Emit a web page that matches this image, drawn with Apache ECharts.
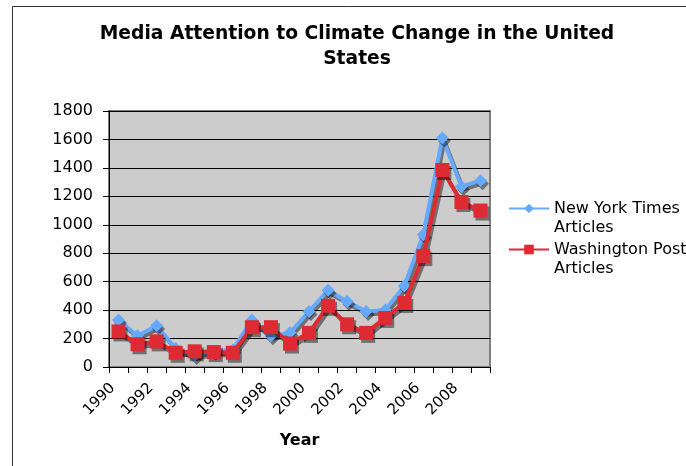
<!DOCTYPE html>
<html>
<head>
<meta charset="utf-8">
<script src="https://cdn.jsdelivr.net/npm/echarts@6/dist/echarts.min.js"></script>
<style>
  html, body { margin: 0; padding: 0; background: #fff; }
  #chart { width: 686px; height: 466px; }
</style>
</head>
<body>
<div id="chart"></div>
<script>
// years on the category axis
var years = ['1990', '1991', '1992', '1993', '1994', '1995', '1996', '1997', '1998', '1999',
  '2000', '2001', '2002', '2003', '2004', '2005', '2006', '2007', '2008', '2009']

// article counts
var nytArticles = [330, 220, 290, 130, 80, 110, 120, 330, 220, 240,
  390, 540, 460, 390, 400, 570, 930, 1610, 1270, 1310]
var wpArticles = [250, 160, 180, 100, 110, 105, 100, 280, 280, 165,
  240, 430, 300, 240, 345, 450, 780, 1385, 1160, 1100]

var yTicks = [0, 1800, 200] // min, max, step

function initMediaChart() {
  let mediaEcharts = echarts.init(document.getElementById('chart'))

  var shadow = {
    shadowColor: 'rgba(0,0,0,0.45)',
    shadowOffsetX: 2,
    shadowOffsetY: 3,
    shadowBlur: 0,
  }

  var mediaOption = {
    animation: false,
    textStyle: { fontFamily: 'DejaVu Sans' },
    // chart frame
    graphic: [
      {
        type: 'rect',
        shape: { x: 12.5, y: 6.5, width: 700, height: 500 },
        style: { fill: 'none', stroke: '#333', lineWidth: 1 },
        silent: true,
      },
    ],
    title: {
      text: 'Media Attention to Climate Change in the United\nStates',
      left: 352,
      top: 17,
      textAlign: 'center',
      textStyle: {
        fontFamily: 'DejaVu Sans',
        fontSize: 18.7,
        fontWeight: 'bold',
        color: '#000',
        lineHeight: 25,
      },
    },
    legend: {
      orient: 'vertical',
      left: 508,
      top: 180,
      padding: 0,
      itemWidth: 40,
      itemHeight: 12,
      itemGap: -16,
      // empty first line keeps the icon level with the first text line
      formatter: function (name) {
        return '\n' + name
      },
      textStyle: {
        fontFamily: 'DejaVu Sans',
        fontSize: 16,
        color: '#000',
        lineHeight: 19,
      },
      data: ['New York Times\nArticles', 'Washington Post\nArticles'],
    },
    grid: {
      left: 109,
      right: 196,
      top: 111,
      bottom: 99,
      show: true,
      backgroundColor: '#cccccc',
      borderColor: '#808080',
      borderWidth: 2,
    },
    xAxis: {
      type: 'category',
      data: years,
      boundaryGap: true,
      name: 'Year',
      nameLocation: 'middle',
      nameGap: 66,
      nameTextStyle: {
        fontFamily: 'DejaVu Sans',
        fontSize: 16,
        fontWeight: 'bold',
        color: '#000',
      },
      axisLine: { lineStyle: { color: '#000', width: 1 } },
      axisTick: { show: true, interval: 0, length: 6, lineStyle: { color: '#000' } },
      axisLabel: {
        interval: 1,
        rotate: 45,
        fontSize: 15,
        color: '#000',
        margin: 13,
        padding: [0, 8, 0, 0],
      },
    },
    yAxis: {
      type: 'value',
      min: yTicks[0],
      max: yTicks[1],
      interval: yTicks[2],
      axisLine: { show: true, lineStyle: { color: '#000', width: 1 } },
      axisTick: { show: true, length: 6, lineStyle: { color: '#000' } },
      axisLabel: {
        fontSize: 16,
        color: '#000',
        margin: 16,
        formatter: function (v) {
          return String(v)
        },
      },
      splitLine: { lineStyle: { color: '#000', width: 1 } },
    },
    series: [
      {
        name: 'New York Times\nArticles',
        type: 'line',
        data: nytArticles,
        symbol: 'diamond',
        symbolSize: 13,
        showAllSymbol: true,
        color: '#66aaff',
        lineStyle: Object.assign({ width: 4, color: '#66aaff' }, shadow),
        itemStyle: Object.assign({ color: '#66aaff' }, shadow),
        z: 2,
      },
      {
        name: 'Washington Post\nArticles',
        type: 'line',
        data: wpArticles,
        symbol: 'rect',
        symbolSize: 14,
        showAllSymbol: true,
        color: '#dd2a33',
        lineStyle: Object.assign({ width: 4, color: '#dd2a33' }, shadow),
        itemStyle: Object.assign({ color: '#dd2a33' }, shadow),
        z: 3,
      },
    ],
  }
  mediaEcharts.setOption(mediaOption)
}

initMediaChart()
</script>
</body>
</html>
